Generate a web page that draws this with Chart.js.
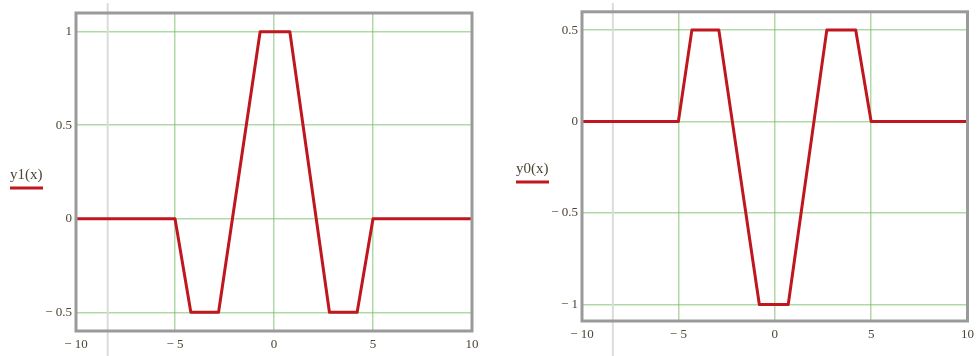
<!DOCTYPE html>
<html>
<head>
<meta charset="utf-8">
<script src="https://cdn.jsdelivr.net/npm/chart.js@4/dist/chart.umd.min.js"></script>
<style>
  body { margin: 0; background: #fff; }
  .box { position: absolute; top: 0; width: 490px; height: 356px; }
  #left { left: 0; }
  #right { left: 490px; }
</style>
</head>
<body>
<div class="box" id="left"><canvas id="chart1"></canvas></div>
<div class="box" id="right"><canvas id="chart2"></canvas></div>
<script>
// datos de las dos gráficas
const xTicks = [-10, -5, 0, 5, 10];
const xTickLabels = ["− 10", "− 5", "0", "5", "10"];

const x1 = [-10, -5, -4.2, -2.8, -0.7, 0.8, 2.8, 4.2, 5, 10];
const y1 = [0, 0, -0.5, -0.5, 1, 1, -0.5, -0.5, 0, 0];
const y1Ticks = [-0.5, 0, 0.5, 1];
const y1TickLabels = ["− 0.5", "0", "0.5", "1"];

const x0 = [-10, -5, -4.3, -2.9, -0.8, 0.7, 2.7, 4.2, 5, 10];
const y0 = [0, 0, 0.5, 0.5, -1, -1, 0.5, 0.5, 0, 0];
const y0Ticks = [-1, -0.5, 0, 0.5];
const y0TickLabels = ["− 1", "− 0.5", "0", "0.5"];

const markerX = -8.4;

const textColor = "#4d4535";
const gridColor = "rgba(110,185,95,0.55)";
const lineColor = "#c0161e";

// línea gris vertical, marco y etiqueta tipo Mathcad
const mathcadPlugin = {
    id: "mathcad",
    beforeDatasetsDraw(chart) {
        const ctx = chart.ctx;
        const xs = chart.scales.x.getPixelForValue(markerX);
        ctx.save();
        ctx.strokeStyle = "#dcdcdc";
        ctx.lineWidth = 2;
        ctx.beginPath();
        ctx.moveTo(xs, 3);
        ctx.lineTo(xs, chart.height);
        ctx.stroke();
        ctx.restore();
    },
    afterDatasetsDraw(chart, args, opts) {
        const ctx = chart.ctx;
        const a = chart.chartArea;
        ctx.save();
        ctx.strokeStyle = "#9a9a9a";
        ctx.lineWidth = 3;
        ctx.strokeRect(a.left, a.top, a.right - a.left, a.bottom - a.top);

        // etiqueta de la función
        ctx.fillStyle = textColor;
        ctx.font = "15px 'Liberation Serif', serif";
        ctx.textBaseline = "alphabetic";
        ctx.fillText(opts.label, opts.lx, opts.ly);
        ctx.strokeStyle = lineColor;
        ctx.lineWidth = 3;
        ctx.beginPath();
        ctx.moveTo(opts.lx, opts.ly + 9);
        ctx.lineTo(opts.lx + 33, opts.ly + 9);
        ctx.stroke();
        ctx.restore();
    }
};

function makeChart(id, xs, ys, yTicks, yLabels, yMin, yMax, cfg) {
    const ctx = document.getElementById(id).getContext("2d");
    return new Chart(ctx, {
        type: "line",
        data: {
            datasets: [{
                data: xs.map((x, i) => ({ x: x, y: ys[i] })),
                borderColor: lineColor,
                borderWidth: 3,
                pointRadius: 0,
                tension: 0,
                borderJoinStyle: "round"
            }]
        },
        options: {
            responsive: true,
            maintainAspectRatio: false,
            animation: false,
            layout: { padding: { top: cfg.top, right: cfg.right, left: 0, bottom: 0 } },
            plugins: {
                legend: { display: false },
                tooltip: { enabled: false },
                mathcad: { label: cfg.label, lx: cfg.lx, ly: cfg.ly }
            },
            scales: {
                x: {
                    type: "linear",
                    min: -10,
                    max: 10,
                    afterBuildTicks: s => { s.ticks = xTicks.map(v => ({ value: v })); },
                    afterFit: s => { s.height = cfg.bottom; },
                    border: { display: false },
                    grid: {
                        drawTicks: false,
                        color: c => (c.tick.value === -10 || c.tick.value === 10) ? "rgba(0,0,0,0)" : gridColor,
                        lineWidth: 1.5
                    },
                    ticks: {
                        padding: 6,
                        maxRotation: 0,
                        color: textColor,
                        font: { family: "'Liberation Serif', serif", size: 13 },
                        callback: (v, i) => xTickLabels[i]
                    }
                },
                y: {
                    type: "linear",
                    min: yMin,
                    max: yMax,
                    afterBuildTicks: s => { s.ticks = yTicks.map(v => ({ value: v })); },
                    afterFit: s => { s.width = cfg.left; },
                    border: { display: false },
                    grid: { drawTicks: false, color: gridColor, lineWidth: 1.5 },
                    ticks: {
                        padding: 4,
                        color: textColor,
                        font: { family: "'Liberation Serif', serif", size: 13 },
                        callback: (v, i) => yLabels[i]
                    }
                }
            }
        },
        plugins: [mathcadPlugin]
    });
}

makeChart("chart1", x1, y1, y1Ticks, y1TickLabels, -0.6, 1.1,
    { top: 13, right: 18, bottom: 25, left: 76, label: "y1(x)", lx: 10, ly: 179 });
makeChart("chart2", x0, y0, y0Ticks, y0TickLabels, -1.09, 0.6,
    { top: 10, right: 12, bottom: 35, left: 92, label: "y0(x)", lx: 26, ly: 173 });
</script>
</body>
</html>
